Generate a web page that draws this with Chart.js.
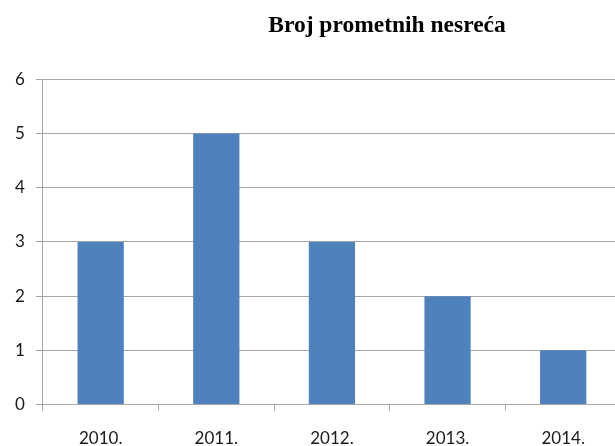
<!DOCTYPE html>
<html>
<head>
<meta charset="utf-8">
<script src="https://cdn.jsdelivr.net/npm/chart.js@4/dist/chart.umd.min.js"></script>
<style>
  html, body { margin: 0; padding: 0; background: #fff; overflow: hidden; }
  #wrap { width: 615px; height: 446px; overflow: hidden; }
  canvas { display: block; }
</style>
</head>
<body>
<div id="wrap">
  <canvas id="chart" width="770" height="446"></canvas>
</div>
<script>
const years = ['2010.', '2011.', '2012.', '2013.', '2014.'];
const accidents = [3, 5, 3, 2, 1];
const titleText = 'Broj prometnih nesreća';

const gridColor = '#a6a6a6';
const labelFont = { family: 'Lato', size: 17 };

new Chart(document.getElementById('chart'), {
  type: 'bar',
  data: {
    labels: years,
    datasets: [{
      data: accidents,
      backgroundColor: '#4f81bd',
      borderWidth: 0,
      categoryPercentage: 1,
      barPercentage: 0.4
    }]
  },
  options: {
    responsive: false,
    animation: false,
    events: [],
    layout: { padding: { left: 4, top: 0, bottom: -21, right: 0 } },
    plugins: {
      legend: { display: false },
      tooltip: { enabled: false },
      title: {
        display: true,
        text: titleText,
        color: '#000',
        font: { family: 'Liberation Serif', size: 23.5, weight: 'bold' },
        padding: { top: 12, bottom: 39 }
      }
    },
    scales: {
      x: {
        grid: { drawOnChartArea: false, color: gridColor, tickLength: 6, offset: true },
        border: { color: gridColor },
        ticks: { color: '#1a1a1a', font: labelFont, padding: 18, maxRotation: 0 }
      },
      y: {
        min: 0,
        max: 6,
        grid: { color: gridColor, tickLength: 7 },
        border: { color: gridColor },
        ticks: { stepSize: 1, color: '#1a1a1a', font: labelFont, padding: 11 }
      },
      // empty axis on the right just to push the plot edge past the visible frame
      spacer: {
        position: 'right',
        display: true,
        grid: { display: false },
        border: { display: false },
        ticks: { display: false },
        afterFit: function(scale) { scale.width = 149; }
      }
    }
  }
});
</script>
</body>
</html>
